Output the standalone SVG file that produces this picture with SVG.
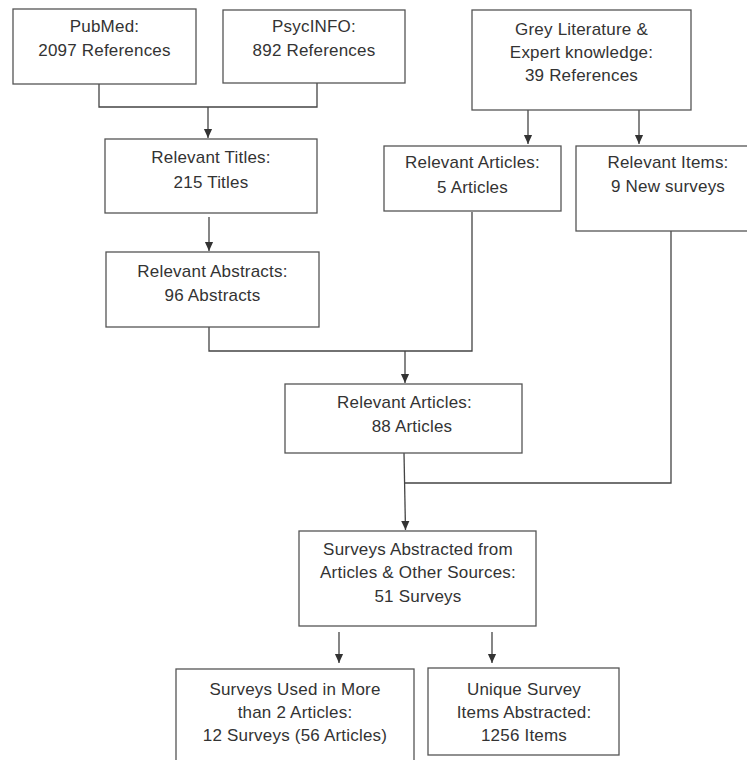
<svg xmlns="http://www.w3.org/2000/svg" width="747" height="760" viewBox="0 0 747 760">
<style>
.box{fill:#fff;stroke:#555;stroke-width:1.3}
.ln{fill:none;stroke:#444;stroke-width:1.3}
text{font-family:"Liberation Sans",Arial,sans-serif;font-size:17px;fill:#333;text-anchor:middle;letter-spacing:0.2px}
</style>
<defs>
<marker id="arr" markerUnits="userSpaceOnUse" markerWidth="10" markerHeight="12" refX="11" refY="5" orient="auto" viewBox="0 0 12 10">
<path d="M0,0 L11,5 L0,10 Z" fill="#333"/>
</marker>
</defs>
<rect width="747" height="760" fill="#fff"/>
<g id="connectors">
<polyline class="ln" points="99,84 99,107 317,107 317,83"/>
<line class="ln" x1="208" y1="107" x2="208" y2="138" marker-end="url(#arr)"/>
<line class="ln" x1="209" y1="217" x2="209" y2="251" marker-end="url(#arr)"/>
<line class="ln" x1="528" y1="110" x2="528" y2="144" marker-end="url(#arr)"/>
<line class="ln" x1="639" y1="110" x2="639" y2="144" marker-end="url(#arr)"/>
<polyline class="ln" points="209,327 209,351 472,351 472,212"/>
<line class="ln" x1="405" y1="351" x2="405" y2="383" marker-end="url(#arr)"/>
<line class="ln" x1="404" y1="453" x2="405.5" y2="530" marker-end="url(#arr)"/>
<polyline class="ln" points="671,231 671,483 405,483"/>
<line class="ln" x1="339" y1="632" x2="339" y2="663" marker-end="url(#arr)"/>
<line class="ln" x1="492" y1="632" x2="492" y2="663" marker-end="url(#arr)"/>
</g>
<g id="pubmed"><rect class="box" x="13" y="9" width="183" height="75"/><text x="104.5" y="32">PubMed:</text><text x="104.5" y="56">2097 References</text></g>
<g id="psycinfo"><rect class="box" x="223" y="10" width="182" height="73"/><text x="314" y="32">PsycINFO:</text><text x="314" y="56">892 References</text></g>
<g id="grey"><rect class="box" x="472" y="10" width="219" height="100"/><text x="581.5" y="35">Grey Literature &amp;</text><text x="581.5" y="58">Expert knowledge:</text><text x="581.5" y="81">39 References</text></g>
<g id="titles"><rect class="box" x="105" y="139" width="212" height="74"/><text x="211" y="163">Relevant Titles:</text><text x="211" y="188">215 Titles</text></g>
<g id="articles5"><rect class="box" x="384" y="146" width="177" height="65"/><text x="472.5" y="168">Relevant Articles:</text><text x="472.5" y="193">5 Articles</text></g>
<g id="items"><rect class="box" x="576" y="146" width="190" height="85"/><text x="668" y="168">Relevant Items:</text><text x="668" y="192">9 New surveys</text></g>
<g id="abstracts"><rect class="box" x="106" y="252" width="213" height="75"/><text x="212.5" y="277">Relevant Abstracts:</text><text x="212.5" y="301">96 Abstracts</text></g>
<g id="articles88"><rect class="box" x="285" y="384" width="237" height="69"/><text x="404.5" y="408">Relevant Articles:</text><text x="412" y="432">88 Articles</text></g>
<g id="surveys"><rect class="box" x="299" y="531" width="237" height="95"/><text x="418" y="555">Surveys Abstracted from</text><text x="418" y="578">Articles &amp; Other Sources:</text><text x="418" y="602">51 Surveys</text></g>
<g id="used"><rect class="box" x="176" y="669" width="238" height="100"/><text x="295" y="695">Surveys Used in More</text><text x="295" y="718">than 2 Articles:</text><text x="295" y="741">12 Surveys (56 Articles)</text></g>
<g id="unique"><rect class="box" x="428" y="668" width="191" height="87"/><text x="524" y="695">Unique Survey</text><text x="524" y="718">Items Abstracted:</text><text x="524" y="741">1256 Items</text></g>
</svg>
